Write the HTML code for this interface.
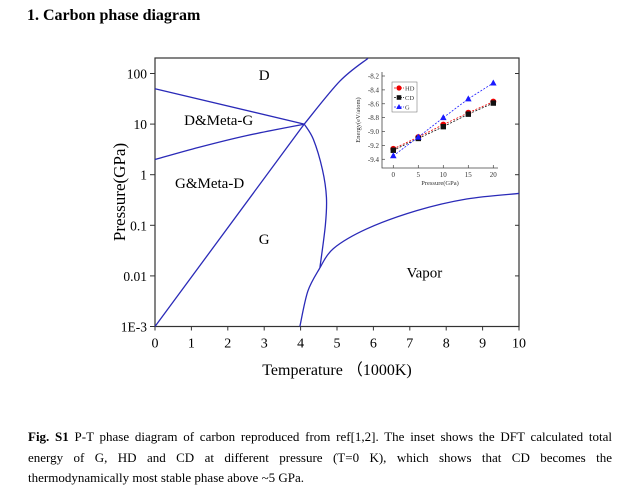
<!DOCTYPE html>
<html><head><meta charset="utf-8"><style>
body{margin:0;background:#fff;width:640px;height:490px;overflow:hidden;font-family:"Liberation Serif",serif;position:relative}
#title{position:absolute;left:27px;top:7px;font-weight:bold;font-size:16px}
#cap{position:absolute;left:28px;top:427px;width:584px;font-size:13px;line-height:20.5px}
#cap div{white-space:nowrap}
#cap .j{text-align:justify;text-align-last:justify;white-space:normal}
svg{position:absolute;left:0;top:0}
</style></head><body>
<div id="title">1. Carbon phase diagram</div>
<svg id="chart" width="640" height="420" font-family="Liberation Serif, serif"></svg>
<div id="cap"><div class="j"><b>Fig. S1</b> P-T phase diagram of carbon reproduced from ref[1,2]. The inset shows the DFT calculated total</div><div class="j">energy of G, HD and CD at different pressure (T=0 K), which shows that CD becomes the</div><div>thermodynamically most stable phase above ~5 GPa.</div></div>
<script>
const xTicks=[0,1,2,3,4,5,6,7,8,9,10];
const yTickExp=[2,1,0,-1,-2,-3];
const yTickLabels=["100","10","1","0.1","0.01","1E-3"];
// boundaries: [T(1000K), log10 P(GPa)]
const lineDMeta=[[0,1.7],[4.1,1.0]];
const lineGMeta=[[0,0.3],[1.2,0.54],[2.5,0.77],[4.1,1.0]];
const lineGD=[[0,-3],[4.1,1.0]];
const lineDLiquid=[[4.1,1.0],[5.08,1.85],[5.85,2.3]];
const lineMelt=[[4.1,1.0],[4.35,0.7],[4.6,0.1],[4.71,-0.45],[4.68,-1.0],[4.53,-1.84]];
const lineSub=[[4.53,-1.84],[4.2,-2.3],[3.98,-3]];
const lineVapor=[[4.53,-1.84],[4.9,-1.46],[5.82,-1.07],[7.19,-0.71],[8.56,-0.48],[10,-0.37]];
const regionLabels=["D","D&Meta-G","G&Meta-D","G","Vapor"];
const regionPos=[[3,1.87],[1.75,0.98],[1.5,-0.26],[3,-1.37],[7.4,-2.03]];
// inset
const insetX=[0,5,10,15,20];
const insetYTicks=[-8.2,-8.4,-8.6,-8.8,-9.0,-9.2,-9.4];
const seriesNames=["HD","CD","G"];
const hdE=[-9.25,-9.08,-8.90,-8.73,-8.57];
const cdE=[-9.27,-9.10,-8.93,-8.75,-8.59];
const gE=[-9.35,-9.08,-8.80,-8.53,-8.30];

const NS="http://www.w3.org/2000/svg";
const svg=document.getElementById('chart');
function mk(tag,attrs,parent){const e=document.createElementNS(NS,tag);for(const k in attrs)e.setAttribute(k,attrs[k]);(parent||svg).appendChild(e);return e;}
const X0=155,X1=519,YT=58,YB=326.5;
const sx=t=>X0+(X1-X0)*t/10;
const sy=l=>326.5-(l+3)*50.6;
let f=mk('rect',{x:X0,y:YT,width:X1-X0,height:YB-YT,fill:'none',stroke:'#333','stroke-width':1.2});


xTicks.forEach(t=>{
 let l=mk('line',{x1:sx(t),x2:sx(t),y1:YB,y2:YB+4,stroke:'#333'});
 
 
 let tx=mk('text',{x:sx(t),y:YB+21,'text-anchor':'middle','font-size':14});
 tx.textContent=t;
 
 
});
yTickExp.forEach((e,i)=>{
 let l=mk('line',{x1:X0-5,x2:X0,y1:sy(e),y2:sy(e),stroke:'#333'});
 
 
 let r=mk('line',{x1:X1-4,x2:X1,y1:sy(e),y2:sy(e),stroke:'#333'});
 
 
 let tx=mk('text',{x:X0-8,y:sy(e)+5,'text-anchor':'end','font-size':13.5});
 tx.textContent=yTickLabels[i];
 
 
});
let xt=mk('text',{x:337,y:375,'text-anchor':'middle','font-size':16});
xt.textContent='Temperature （1000K)';


let yt=mk('text',{x:0,y:0,'text-anchor':'middle','font-size':17,transform:'translate(125,192) rotate(-90)'});
yt.textContent='Pressure(GPa)';


function curve(pts,name){
 let d='M'+pts.map(p=>sx(p[0]).toFixed(1)+','+sy(p[1]).toFixed(1)).join(' L');
 if(pts.length>2){
  d='M'+sx(pts[0][0])+','+sy(pts[0][1]);
  for(let i=1;i<pts.length;i++){
   const p0=pts[Math.max(i-2,0)],p1=pts[i-1],p2=pts[i],p3=pts[Math.min(i+1,pts.length-1)];
   const c1=[sx(p1[0])+(sx(p2[0])-sx(p0[0]))/6,sy(p1[1])+(sy(p2[1])-sy(p0[1]))/6];
   const c2=[sx(p2[0])-(sx(p3[0])-sx(p1[0]))/6,sy(p2[1])-(sy(p3[1])-sy(p1[1]))/6];
   d+=` C${c1[0]},${c1[1]} ${c2[0]},${c2[1]} ${sx(p2[0])},${sy(p2[1])}`;
  }
 }
 let p=mk('path',{d:d,fill:'none',stroke:'#2a2ab8','stroke-width':1.3});
 
 
}
curve(lineDMeta,'d-metag-boundary');
curve(lineGMeta,'g-metad-boundary');
curve(lineGD,'graphite-diamond-boundary');
curve(lineDLiquid,'diamond-liquid-boundary');
curve(lineMelt,'graphite-melting-curve');
curve(lineSub,'sublimation-curve');
curve(lineVapor,'vapor-curve');
regionLabels.forEach((s,i)=>{
 let t=mk('text',{x:sx(regionPos[i][0]),y:sy(regionPos[i][1]),'text-anchor':'middle','font-size':15});
 t.textContent=s;
 
 
});
const ix=p=>393.3+5*p, iy=e=>76+(-8.2-e)*69.4;
let ia=mk('path',{d:'M382,72 L382,168 L498,168',fill:'none',stroke:'#444','stroke-width':0.8});


insetYTicks.forEach(v=>{
 let l=mk('line',{x1:382,x2:385,y1:iy(v),y2:iy(v),stroke:'#444','stroke-width':0.7});
 
 
 let t=mk('text',{x:379,y:iy(v)+2.5,'text-anchor':'end','font-size':7,fill:'#333'});
 t.textContent=v.toFixed(1);
 
 
});
insetX.forEach(v=>{
 let l=mk('line',{x1:ix(v),x2:ix(v),y1:168,y2:165,stroke:'#444','stroke-width':0.7});
 
 
 let t=mk('text',{x:ix(v),y:177,'text-anchor':'middle','font-size':7,fill:'#333'});
 t.textContent=v;
 
 
});
let ixt=mk('text',{x:440,y:185,'text-anchor':'middle','font-size':6.5,fill:'#333'});
ixt.textContent='Pressure(GPa)';


let iyt=mk('text',{x:0,y:0,'text-anchor':'middle','font-size':6.5,fill:'#333',transform:'translate(360,120) rotate(-90)'});
iyt.textContent='Energy(eV/atom)';


const sdata=[hdE,cdE,gE],cols=['#e00','#111','#1a1aff'];
sdata.forEach((arr,si)=>{
 let p=mk('polyline',{points:arr.map((e,i)=>ix(insetX[i])+','+iy(e)).join(' '),fill:'none',stroke:cols[si],'stroke-width':0.8,'stroke-dasharray':'2,1.5'});
 
 
 arr.forEach((e,i)=>{
  const x=ix(insetX[i]),y=iy(e);let m;
  if(si==0)m=mk('circle',{cx:x,cy:y,r:3,fill:cols[si]});
  else if(si==1)m=mk('rect',{x:x-2.7,y:y-2.7,width:5.4,height:5.4,fill:cols[si]});
  else m=mk('polygon',{points:`${x},${y-3.5} ${x-3.3},${y+2.5} ${x+3.3},${y+2.5}`,fill:cols[si]});
  
  
 });
});
let lb=mk('rect',{x:392,y:82,width:25,height:30,fill:'#fff',stroke:'#666','stroke-width':0.5});


seriesNames.forEach((n,i)=>{
 const y=88+i*9.5;
 let l=mk('line',{x1:394,x2:404,y1:y,y2:y,stroke:cols[i],'stroke-width':0.7,'stroke-dasharray':'2,1'});
 
 
 let m;
 if(i==0)m=mk('circle',{cx:399,cy:y,r:2.6,fill:cols[i]});
 else if(i==1)m=mk('rect',{x:396.7,y:y-2.3,width:4.6,height:4.6,fill:cols[i]});
 else m=mk('polygon',{points:`399,${y-3} 396.2,${y+2} 401.8,${y+2}`,fill:cols[i]});
 
 
 let t=mk('text',{x:405,y:y+2.5,'font-size':6.5,fill:'#333'});
 t.textContent=n;
 
 
});
</script>
</body></html>
